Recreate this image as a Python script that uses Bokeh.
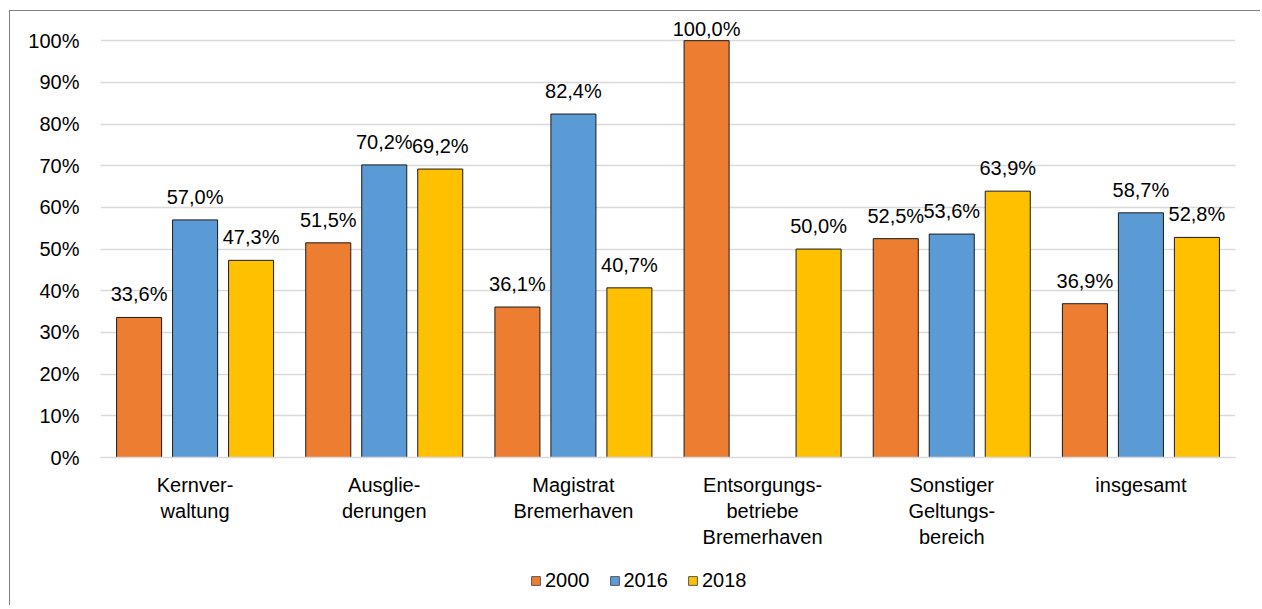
from bokeh.plotting import figure
from bokeh.layouts import column
from bokeh.models import ColumnDataSource, FactorRange, Legend, LegendItem, FixedTicker, Range1d
from bokeh.transform import dodge
from bokeh.core.properties import value
from bokeh.embed import file_html
from bokeh.resources import INLINE

categories = ["Kernver-\nwaltung", "Ausglie-\nderungen", "Magistrat\nBremerhaven",
              "Entsorgungs-\nbetriebe\nBremerhaven", "Sonstiger\nGeltungs-\nbereich", "insgesamt"]
series_names = ["2000", "2016", "2018"]
values_2000 = [33.6, 51.5, 36.1, 100.0, 52.5, 36.9]
values_2016 = [57.0, 70.2, 82.4, None, 53.6, 58.7]
values_2018 = [47.3, 69.2, 40.7, 50.0, 63.9, 52.8]
y_ticks = [0, 10, 20, 30, 40, 50, 60, 70, 80, 90, 100]
y_tick_labels = ["0%", "10%", "20%", "30%", "40%", "50%", "60%", "70%", "80%", "90%", "100%"]

colors = ["#ED7D31", "#5B9BD5", "#FFC000"]
offsets = [-0.296, 0.0, 0.296]
FONT = "Liberation Sans"

p = figure(x_range=FactorRange(*categories), y_range=(0, 107),
           width=1250, height=546, output_backend="svg", toolbar_location=None,
           min_border_left=90, min_border_right=25, min_border_top=0, min_border_bottom=100)
p.outline_line_color = None
p.x_range.range_padding = 0
p.x_range.group_padding = 0

sources = []
for name, vals, col, off in zip(series_names, [values_2000, values_2016, values_2018], colors, offsets):
    xs = [c for c, v in zip(categories, vals) if v is not None]
    ys = [v for v in vals if v is not None]
    labels = [f"{v:.1f}".replace(".", ",") + "%" for v in ys]
    # labels sit above the bar; a label that would leave the plot area is pushed down (as Excel does)
    yoff = [-1 if v > 97 else -12 for v in ys]
    src = ColumnDataSource(dict(x=xs, y=ys, label=labels, yoff=yoff))
    sources.append(src)
    p.vbar(x=dodge("x", off, range=p.x_range), top="y", width=0.238, source=src,
           fill_color=col, line_color="#1a1a1a", line_width=1)
    p.text(x=dodge("x", off, range=p.x_range), y="y", text="label", source=src,
           text_align="center", text_baseline="bottom", y_offset="yoff",
           text_font=value(FONT), text_font_size="20px", text_color="#000000")

p.yaxis.ticker = FixedTicker(ticks=y_ticks)
p.yaxis.major_label_overrides = {t: l for t, l in zip(y_ticks, y_tick_labels)}
p.yaxis.axis_line_color = None
p.yaxis.major_tick_line_color = None
p.yaxis.minor_tick_line_color = None
p.yaxis.major_label_standoff = 15
p.yaxis.major_label_text_font = FONT
p.yaxis.major_label_text_font_size = "20px"
p.yaxis.major_label_text_color = "#000000"

p.xaxis.axis_line_color = "#d9d9d9"
p.xaxis.axis_line_width = 1.5
p.xaxis.major_tick_line_color = None
p.xaxis.minor_tick_line_color = None
p.xaxis.major_label_standoff = 10
p.xaxis.major_label_text_font = FONT
p.xaxis.major_label_text_font_size = "20px"
p.xaxis.major_label_text_color = "#000000"

p.xgrid.grid_line_color = None
p.ygrid.grid_line_color = "#d9d9d9"
p.ygrid.grid_line_width = 1.5
p.ygrid.ticker = FixedTicker(ticks=y_ticks)

# legend strip below the chart (its bars lie entirely below the visible y-range; only the legend shows)
lg = figure(width=1250, height=48, output_backend="svg", toolbar_location=None,
            x_range=p.x_range, y_range=Range1d(101, 102),
            x_axis_type=None, y_axis_type=None,
            min_border_left=0, min_border_right=0, min_border_top=0, min_border_bottom=0)
lg.outline_line_color = None
lg.xgrid.grid_line_color = None
lg.ygrid.grid_line_color = None
items = []
for name, src, col, off in zip(series_names, sources, colors, offsets):
    r = lg.vbar(x=dodge("x", off, range=p.x_range), top="y", width=0.238, source=src,
                fill_color=col, line_color="#595959", line_width=1)
    items.append(LegendItem(label=name, renderers=[r]))
legend = Legend(items=items, orientation="horizontal", location=(430, 13),
                glyph_width=11, glyph_height=11, label_standoff=4, spacing=19,
                label_text_font=FONT, label_text_font_size="20px", label_text_color="#000000",
                border_line_color=None, background_fill_alpha=0, padding=0, margin=0)
lg.add_layout(legend, "center")

layout = column(p, lg, spacing=0)
layout.styles = {"margin-left": "9px", "margin-top": "10px",
                 "border-left": "1px solid #7f7f7f", "border-top": "1px solid #7f7f7f"}

open("out.html", "w").write(file_html(layout, INLINE))
